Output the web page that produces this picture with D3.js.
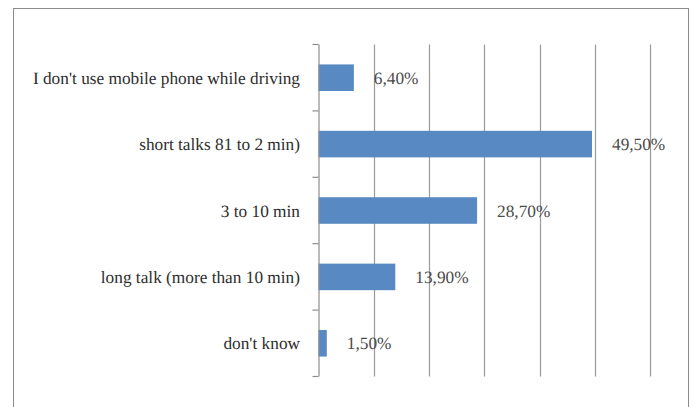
<!DOCTYPE html>
<html>
<head>
<meta charset="utf-8">
<script src="https://cdn.jsdelivr.net/npm/d3@7"></script>
<style>
  html, body { margin: 0; padding: 0; background: #fff; }
  svg { display: block; }
</style>
</head>
<body>
<svg id="chart" width="693" height="407"></svg>
<script>
// Answers about phone use while driving (share of respondents, %)
const categories = [
  "I don't use mobile phone while driving",
  "short talks 81 to 2 min)",
  "3 to 10 min",
  "long talk (more than 10 min)",
  "don't know"
];
const values = [6.4, 49.5, 28.7, 13.9, 1.5];
const valueLabels = ["6,40%", "49,50%", "28,70%", "13,90%", "1,50%"];
const xTicks = [0, 10, 20, 30, 40, 50, 60];

const FONT = "'Liberation Serif'";
const FONT_SIZE = 17.3;
const svg = d3.select("#chart");

// outer frame
svg.append("rect")
  .attr("x", 13.5).attr("y", 8.5)
  .attr("width", 675).attr("height", 420)
  .attr("fill", "none").attr("stroke", "#8c8c8c").attr("stroke-width", 1);

const plot = { left: 318.5, right: 650, top: 44.5, bottom: 376.5 };

const x = d3.scaleLinear().domain([0, 60]).range([plot.left, plot.right]);
const y = d3.scaleBand().domain(categories)
  .range([plot.top, plot.bottom]).paddingInner(0.6).paddingOuter(0.3);

// vertical gridlines
svg.append("g").selectAll("line")
  .data(xTicks.slice(1))
  .join("line")
  .attr("x1", d => Math.round(x(d)) + 0.5).attr("x2", d => Math.round(x(d)) + 0.5)
  .attr("y1", plot.top).attr("y2", plot.bottom)
  .attr("stroke", "#9a9a9a").attr("stroke-width", 1.2);

// bars
svg.append("g").selectAll("rect")
  .data(categories)
  .join("rect")
  .attr("x", x(0))
  .attr("y", d => y(d))
  .attr("width", (d, i) => x(values[i]) - x(0))
  .attr("height", y.bandwidth())
  .attr("fill", "#5889c2");

// category axis with ticks between bands
const bandStep = (plot.bottom - plot.top) / categories.length;
const axis = svg.append("g");
axis.append("line")
  .attr("x1", plot.left + 0.5).attr("x2", plot.left + 0.5)
  .attr("y1", plot.top).attr("y2", plot.bottom)
  .attr("stroke", "#8c8c8c").attr("stroke-width", 1.2);
axis.selectAll("line.tick")
  .data(d3.range(categories.length + 1))
  .join("line").attr("class", "tick")
  .attr("x1", plot.left - 6).attr("x2", plot.left)
  .attr("y1", i => plot.top + i * bandStep).attr("y2", i => plot.top + i * bandStep)
  .attr("stroke", "#8c8c8c").attr("stroke-width", 1.2);

// category labels
svg.append("g").selectAll("text")
  .data(categories)
  .join("text")
  .attr("x", 300)
  .attr("y", d => y(d) + y.bandwidth() / 2)
  .attr("dy", "0.35em")
  .attr("text-anchor", "end")
  .attr("font-size", FONT_SIZE)
  .attr("text-rendering", "geometricPrecision")
  .style("font-family", FONT)
  .attr("fill", "#2e2e2e")
  .text(d => d);

// value labels
svg.append("g").selectAll("text")
  .data(categories)
  .join("text")
  .attr("x", (d, i) => x(values[i]) + 20)
  .attr("y", d => y(d) + y.bandwidth() / 2)
  .attr("dy", "0.35em")
  .attr("font-size", FONT_SIZE)
  .attr("text-rendering", "geometricPrecision")
  .style("font-family", FONT)
  .attr("fill", "#4a4a4a")
  .text((d, i) => valueLabels[i]);
</script>
</body>
</html>
